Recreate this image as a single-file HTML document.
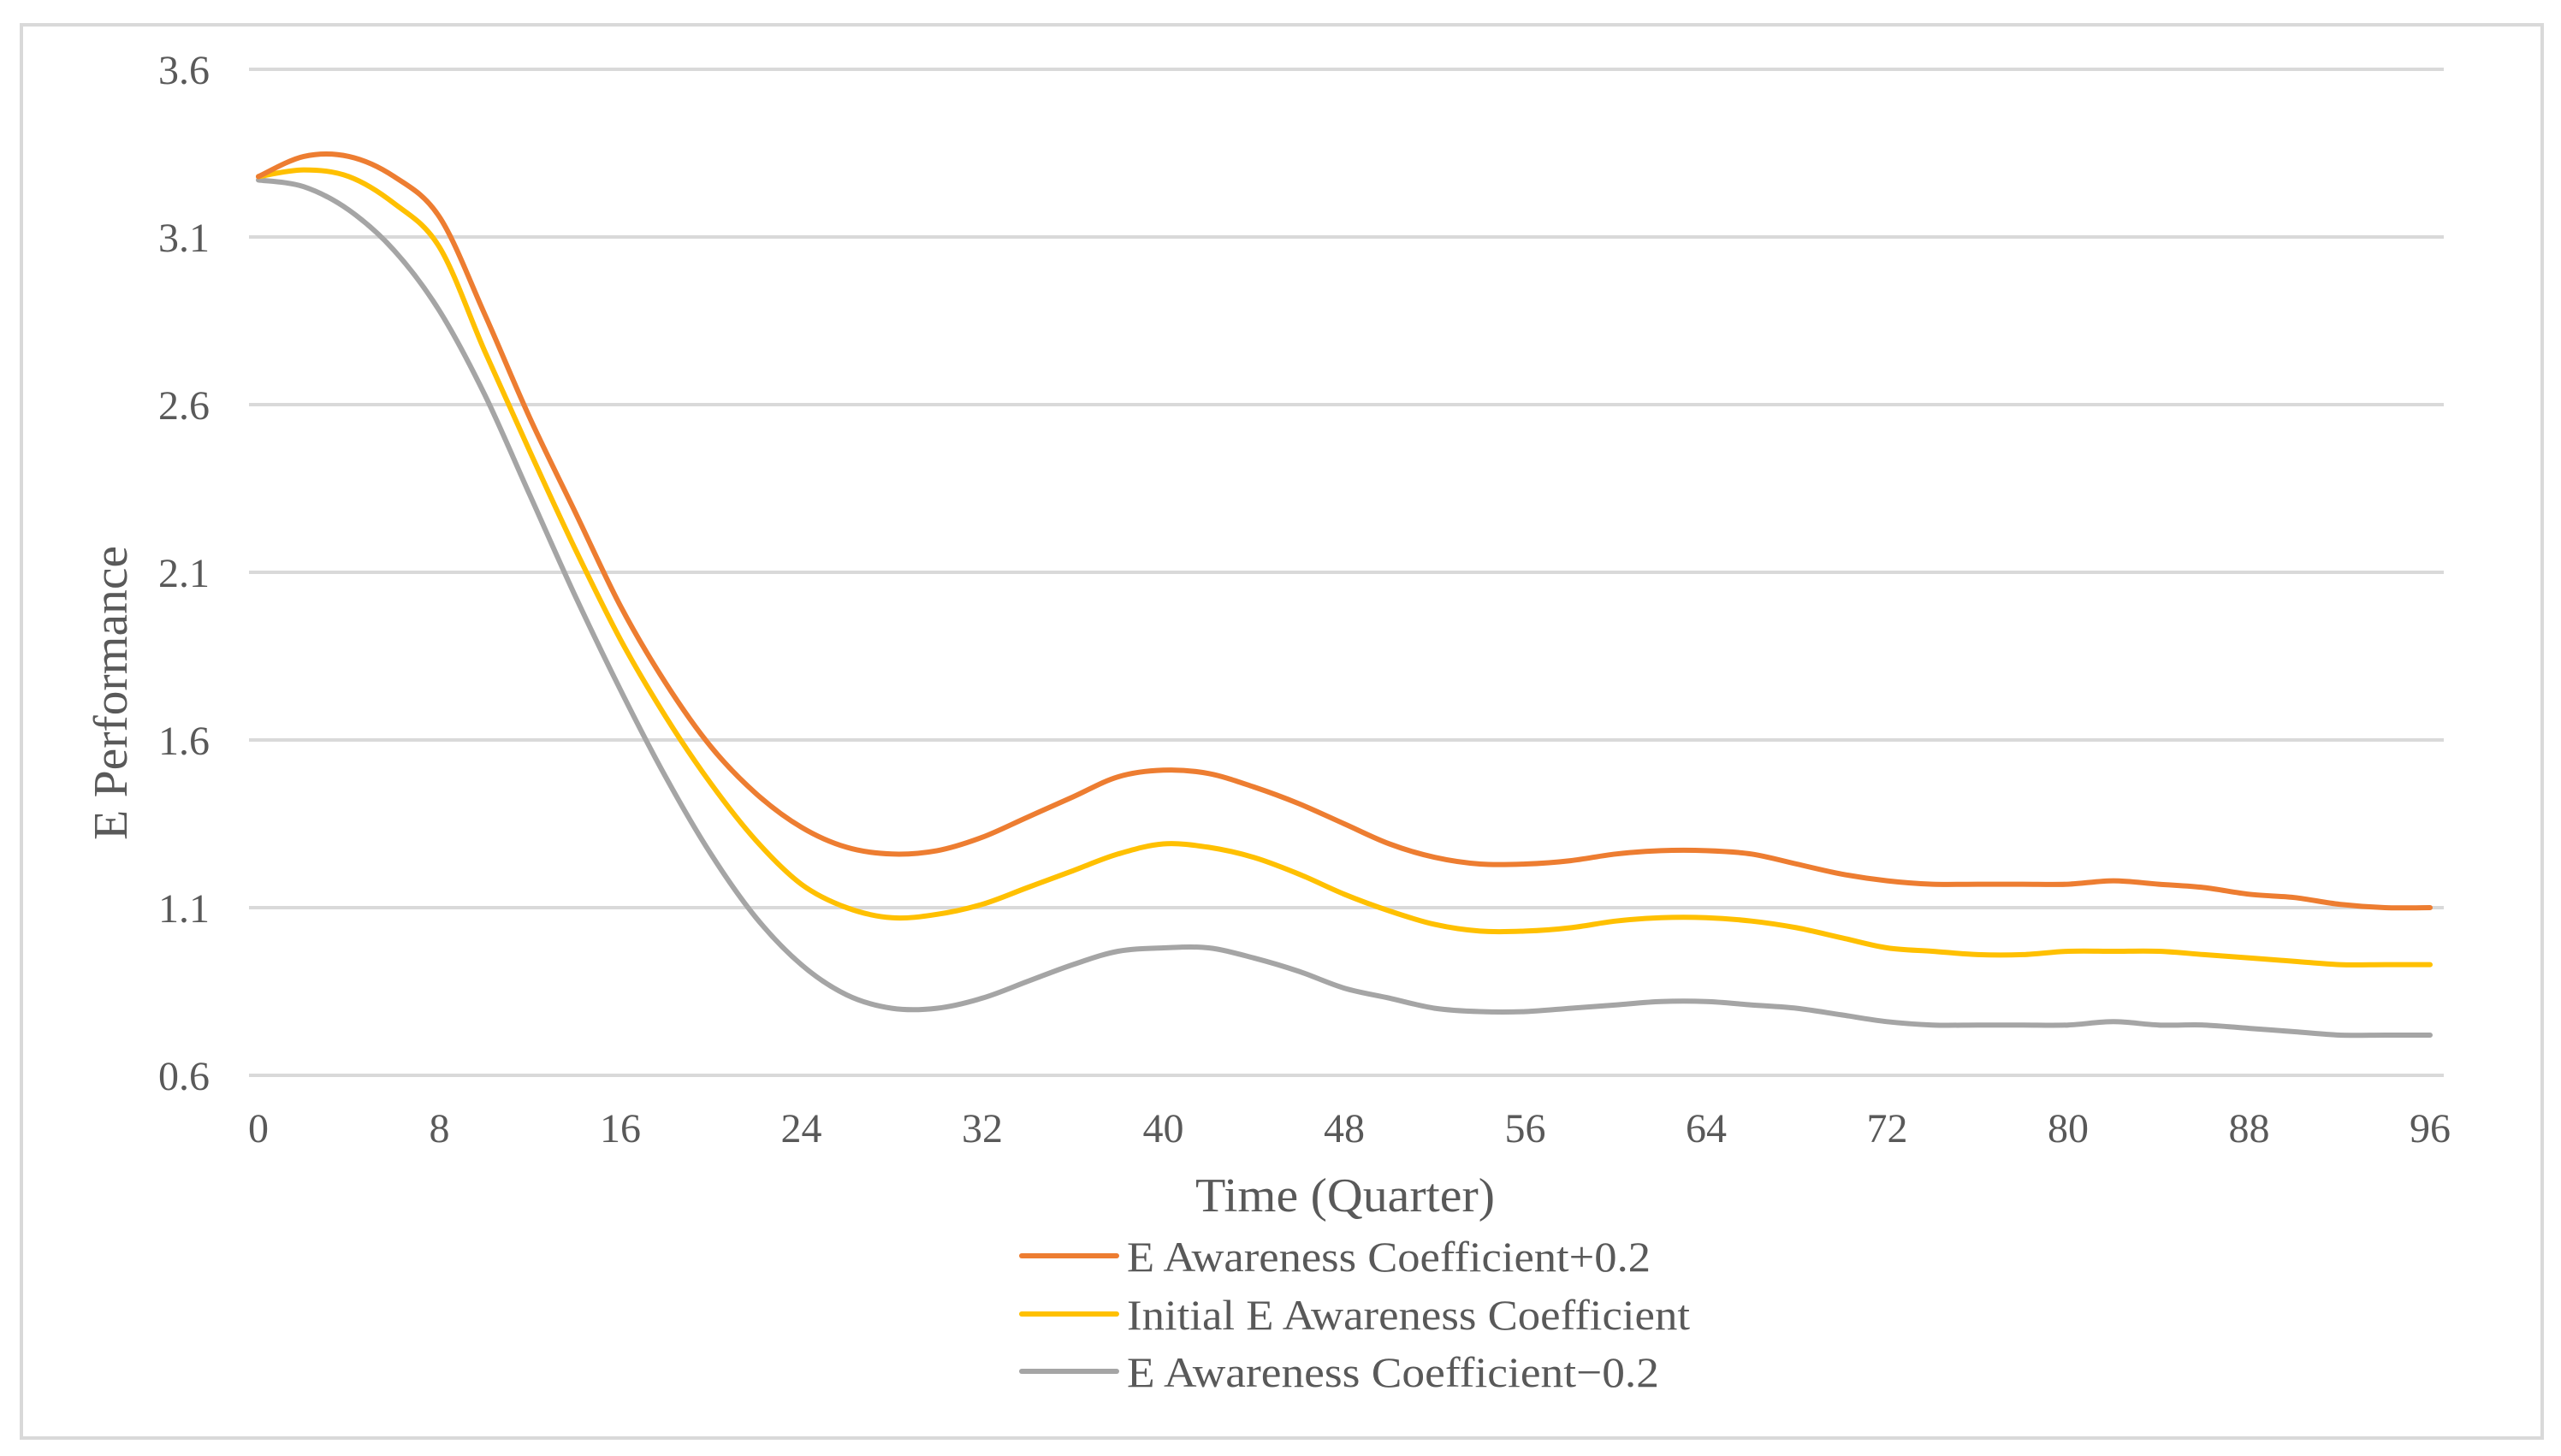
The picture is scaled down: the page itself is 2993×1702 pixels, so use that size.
<!DOCTYPE html>
<html><head><meta charset="utf-8"><style>
html,body{margin:0;padding:0;background:#fff;}
svg{display:block;}
text{font-family:"Liberation Serif",serif;fill:#595959;}
</style></head><body>
<svg id="chart" width="2993" height="1702" viewBox="0 0 2993 1702" xmlns="http://www.w3.org/2000/svg">
<rect x="25" y="29" width="2946" height="1652" fill="#fff" stroke="#d9d9d9" stroke-width="4"/>
<g id="grid"></g>
<g id="series"></g>
<g id="xticks"></g>
<g id="yticks"></g>
<text x="1572" y="1416" font-size="56" text-anchor="middle" textLength="350" lengthAdjust="spacingAndGlyphs">Time (Quarter)</text>
<text transform="translate(148,810) rotate(-90)" font-size="56" text-anchor="middle" textLength="344" lengthAdjust="spacingAndGlyphs">E Performance</text>
<g>
<g>
<line x1="1194" y1="1468" x2="1305" y2="1468" stroke="#ED7D31" stroke-width="6" stroke-linecap="round"/>
<text x="1317" y="1486" font-size="50" textLength="612" lengthAdjust="spacingAndGlyphs">E Awareness Coefficient+0.2</text>
</g>
<g>
<line x1="1194" y1="1536" x2="1305" y2="1536" stroke="#FFC000" stroke-width="6" stroke-linecap="round"/>
<text x="1317" y="1554" font-size="50" textLength="658" lengthAdjust="spacingAndGlyphs">Initial E Awareness Coefficient</text>
</g>
<g>
<line x1="1194" y1="1603" x2="1305" y2="1603" stroke="#A5A5A5" stroke-width="6" stroke-linecap="round"/>
<text x="1317" y="1621" font-size="50" textLength="622" lengthAdjust="spacingAndGlyphs">E Awareness Coefficient−0.2</text>
</g>
</g>
</svg>
<script>
const quarters = [0,2,4,6,8,10,12,14,16,18,20,22,24,26,28,30,32,34,36,38,40,42,44,46,48,50,52,54,56,58,60,62,64,66,68,70,72,74,76,78,80,82,84,86,88,90,92,94,96];
const seriesPlus = [3.28,3.34,3.34,3.28,3.16,2.87,2.56,2.28,2.0,1.77,1.58,1.44,1.34,1.28,1.26,1.27,1.31,1.37,1.43,1.49,1.51,1.50,1.46,1.41,1.35,1.29,1.25,1.23,1.23,1.24,1.26,1.27,1.27,1.26,1.23,1.20,1.18,1.17,1.17,1.17,1.17,1.18,1.17,1.16,1.14,1.13,1.11,1.10,1.10];
const seriesInitial = [3.28,3.30,3.28,3.20,3.07,2.76,2.46,2.17,1.90,1.67,1.47,1.30,1.17,1.10,1.07,1.08,1.11,1.16,1.21,1.26,1.29,1.28,1.25,1.20,1.14,1.09,1.05,1.03,1.03,1.04,1.06,1.07,1.07,1.06,1.04,1.01,0.98,0.97,0.96,0.96,0.97,0.97,0.97,0.96,0.95,0.94,0.93,0.93,0.93];
const seriesMinus = [3.27,3.25,3.18,3.06,2.88,2.63,2.33,2.03,1.75,1.49,1.26,1.07,0.93,0.84,0.80,0.80,0.83,0.88,0.93,0.97,0.98,0.98,0.95,0.91,0.86,0.83,0.80,0.79,0.79,0.80,0.81,0.82,0.82,0.81,0.80,0.78,0.76,0.75,0.75,0.75,0.75,0.76,0.75,0.75,0.74,0.73,0.72,0.72,0.72];
const xTickLabels = ["0","8","16","24","32","40","48","56","64","72","80","88","96"];
const yTickLabels = ["0.6","1.1","1.6","2.1","2.6","3.1","3.6"];

const NS = "http://www.w3.org/2000/svg";
function xScale(q){ return 302 + (q/96)*(2840-302); }
function yScale(v){ return 1257 - (v-0.6)/3.0*(1257-81); }

const grid = document.getElementById('grid');
const yt = document.getElementById('yticks');
yTickLabels.forEach(function(l){
  const v = parseFloat(l), y = yScale(v);
  const ln = document.createElementNS(NS,'line');
  
  
  ln.setAttribute('x1',291); ln.setAttribute('x2',2856);
  ln.setAttribute('y1',y); ln.setAttribute('y2',y);
  ln.setAttribute('stroke','#d9d9d9'); ln.setAttribute('stroke-width','4');
  grid.appendChild(ln);
  const t = document.createElementNS(NS,'text');
  
  
  t.setAttribute('x',245); t.setAttribute('y',y+17);
  t.setAttribute('text-anchor','end'); t.setAttribute('font-size','48');
  t.textContent = l;
  yt.appendChild(t);
});
const xt = document.getElementById('xticks');
xTickLabels.forEach(function(l){
  const t = document.createElementNS(NS,'text');
  
  
  t.setAttribute('x',xScale(parseFloat(l))); t.setAttribute('y',1335);
  t.setAttribute('text-anchor','middle'); t.setAttribute('font-size','48');
  t.textContent = l;
  xt.appendChild(t);
});
function smoothPath(pts){
  let d = 'M' + pts[0][0].toFixed(1) + ',' + pts[0][1].toFixed(1);
  for (let i = 0; i < pts.length - 1; i++) {
    const p0 = pts[i-1] || pts[i], p1 = pts[i], p2 = pts[i+1], p3 = pts[i+2] || p2;
    const c1x = p1[0] + (p2[0]-p0[0])/6, c1y = p1[1] + (p2[1]-p0[1])/6;
    const c2x = p2[0] - (p3[0]-p1[0])/6, c2y = p2[1] - (p3[1]-p1[1])/6;
    d += ' C' + c1x.toFixed(1)+','+c1y.toFixed(1)+' '+c2x.toFixed(1)+','+c2y.toFixed(1)+' '+p2[0].toFixed(1)+','+p2[1].toFixed(1);
  }
  return d;
}
const sg = document.getElementById('series');
[[seriesMinus,'#A5A5A5','series-coefficient-minus'],[seriesInitial,'#FFC000','series-initial-coefficient'],[seriesPlus,'#ED7D31','series-coefficient-plus']].forEach(function(s){
  const pts = s[0].map(function(v,i){ return [xScale(quarters[i]), yScale(v)]; });
  const p = document.createElementNS(NS,'path');
  
  
  p.setAttribute('d', smoothPath(pts));
  p.setAttribute('fill','none'); p.setAttribute('stroke',s[1]);
  p.setAttribute('stroke-width','6'); p.setAttribute('stroke-linejoin','round'); p.setAttribute('stroke-linecap','round');
  sg.appendChild(p);
});
</script>
</body></html>
